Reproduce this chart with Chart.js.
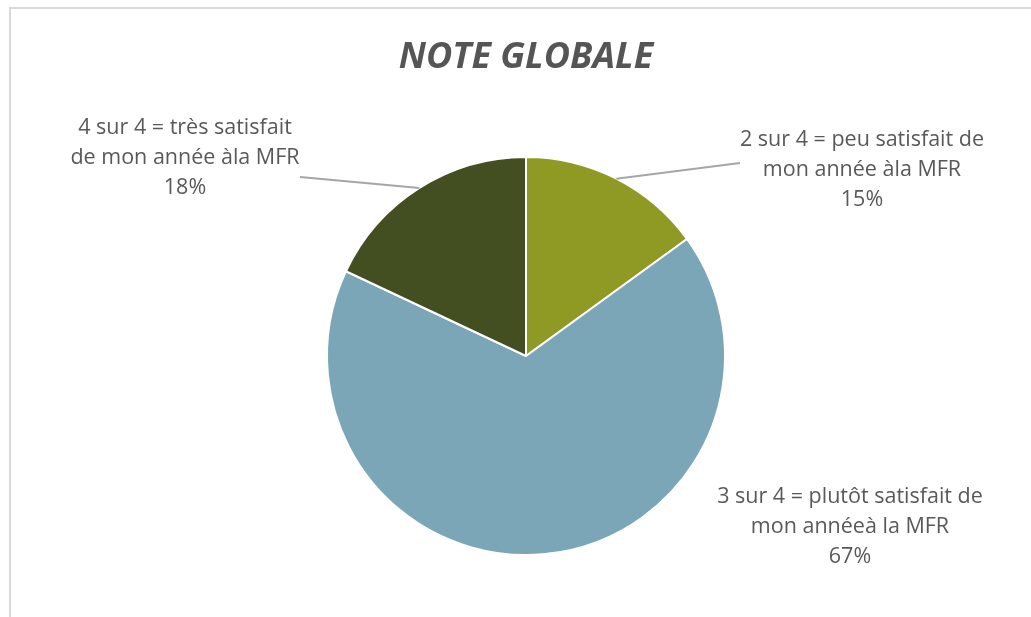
<!DOCTYPE html>
<html>
<head>
<meta charset="utf-8">
<script src="https://cdn.jsdelivr.net/npm/chart.js@4.4.1/dist/chart.umd.min.js"></script>
<style>
    html, body { margin: 0; padding: 0; background: #fff; overflow: hidden; }
    #frame {
        position: absolute; left: 9px; top: 7px; width: 1100px; height: 700px;
        border-top: 2px solid #d9d9d9; border-left: 2px solid #d9d9d9;
    }
    #chart { position: absolute; left: 0; top: 0; }
</style>
</head>
<body>
<div id="frame"></div>
<canvas id="chart" width="1031" height="617"></canvas>
<script>
// Chart data
const categories = [
    ["2 sur 4 = peu satisfait de", "mon année àla MFR"],
    ["3 sur 4 = plutôt satisfait de", "mon annéeà la MFR"],
    ["4 sur 4 = très satisfait", "de mon année àla MFR"]
];
const percentages = [15, 67, 18];
const sliceColors = ["#8e9a24", "#7ba6b8", "#434f20"];

// Label anchors (offset from pie centre) and leader line end points
const labelSpots = [
    { dx: 336, dy: -216, leader: { dx: 214, dy: -193 } },
    { dx: 324, dy: 141, leader: null },
    { dx: -341, dy: -228, leader: { dx: -226, dy: -179 } }
];

const labelPlugin = {
    id: "pieLabels",
    afterDatasetsDraw(chart) {
        const ctx = chart.ctx;
        const meta = chart.getDatasetMeta(0);
        ctx.save();
        meta.data.forEach((arc, i) => {
            const p = arc.getProps(["x", "y", "startAngle", "endAngle", "outerRadius"], true);
            const spot = labelSpots[i];
            if (spot.leader) {
                const mid = (p.startAngle + p.endAngle) / 2;
                ctx.strokeStyle = "#a6a6a6";
                ctx.lineWidth = 2;
                ctx.beginPath();
                ctx.moveTo(p.x + Math.cos(mid) * p.outerRadius, p.y + Math.sin(mid) * p.outerRadius);
                ctx.lineTo(p.x + spot.leader.dx, p.y + spot.leader.dy);
                ctx.stroke();
            }
            const lines = categories[i].concat([percentages[i] + "%"]);
            ctx.fillStyle = "#595959";
            ctx.font = "21.5px 'Open Sans'";
            ctx.textAlign = "center";
            ctx.textBaseline = "middle";
            lines.forEach((t, k) => {
                ctx.fillText(t, p.x + spot.dx, p.y + spot.dy + k * 30);
            });
        });
        ctx.restore();
    }
};

const chart = new Chart(document.getElementById("chart"), {
    type: "pie",
    data: {
        labels: categories.map(c => c.join(" ")),
        datasets: [{
            data: percentages,
            backgroundColor: sliceColors,
            borderColor: "#ffffff",
            borderWidth: 2
        }]
    },
    options: {
        responsive: false,
        animation: false,
        layout: { padding: { top: 36, bottom: 61, left: 326, right: 305 } },
        plugins: {
            legend: { display: false },
            tooltip: { enabled: false },
            title: {
                display: true,
                text: "NOTE GLOBALE",
                color: "#555555",
                font: { family: "'Open Sans'", size: 36, weight: "bold", style: "italic", lineHeight: 1.2 },
                padding: { top: 0, bottom: 76.8 }
            }
        }
    },
    plugins: [labelPlugin]
});
</script>
</body>
</html>
